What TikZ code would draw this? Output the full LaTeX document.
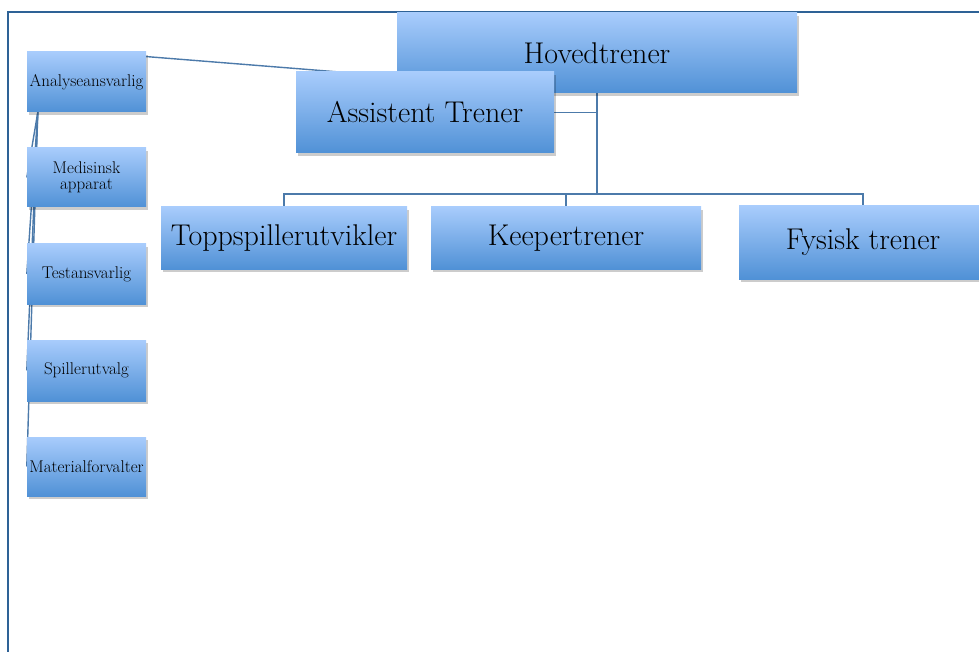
\documentclass[tikz,border=0pt]{standalone}
\usepackage{xcolor}
\usetikzlibrary{shadows,backgrounds}

\definecolor{boxtop}{RGB}{168,204,252}
\definecolor{boxbot}{RGB}{80,145,214}
\definecolor{frameblue}{RGB}{46,98,150}
\definecolor{linkblue}{RGB}{76,122,170}

\begin{document}
\begin{tikzpicture}[x=1pt, y=-1pt,
      orgbox/.style={rectangle, inner sep=0pt, top color=boxtop, bottom color=boxbot,
        drop shadow={shadow xshift=2pt, shadow yshift=-3pt, fill=black, opacity=0.2},
        text=black, font=\fontsize{30}{34}\selectfont},
      smallbox/.style={orgbox, minimum width=119pt, align=center,
        font=\fontsize{17}{16}\selectfont},
      link/.style={draw=linkblue, line width=1.4pt}]
    \useasboundingbox (0,0) rectangle (979,652);
    % frame
    \draw[frameblue, line width=2pt] (8,652) -- (8,12) -- (979,12);
    % top of the chart
    \node[orgbox, minimum width=400pt, minimum height=80pt] (hoved) at (597,53) {Hovedtrener};
    \node[orgbox, minimum width=258pt, minimum height=81pt] (assist) at (425,112.5) {Assistent Trener};
    \node[orgbox, minimum width=246pt, minimum height=62pt] (topp) at (284,238) {Toppspillerutvikler};
    \node[orgbox, minimum width=270pt, minimum height=62pt] (keeper) at (566,238) {Keepertrener};
    \node[orgbox, minimum width=248pt, minimum height=73pt] (fysisk) at (863,242.5) {Fysisk trener};
    % left column
    \node[smallbox, minimum height=60pt] (analyse) at (86.5,82) {Analyseansvarlig};
    \node[smallbox, minimum height=59pt] (medisinsk) at (86.5,177.5) {Medisinsk\\apparat};
    \node[smallbox, minimum height=60pt] (test) at (86.5,274) {Testansvarlig};
    \node[smallbox, minimum height=61pt] (spiller) at (86.5,370.5) {Spillerutvalg};
    \node[smallbox, minimum height=59pt] (material) at (86.5,466.5) {Materialforvalter};
    \coordinate (bus) at (hoved.south |- 0,194);
    \coordinate (fan) at ([xshift=11pt]analyse.south west);

    \begin{pgfonlayer}{background}
      \draw[link] (hoved.south) -- (bus);
      \draw[link] (topp.north) |- (bus) -| (fysisk.north);
      \draw[link] (keeper.north) |- (bus);
      \draw[link] (assist.east) -- (assist.east -| hoved.south);
      \draw[link] (analyse.north) -- ([xshift=41pt]assist.north west);
      \draw[link] (fan) -- (medisinsk.west);
      \draw[link] (fan) -- (test.west);
      \draw[link] (fan) -- (spiller.west);
      \draw[link] (fan) -- (material.west);
    \end{pgfonlayer}
  \end{tikzpicture}
\end{document}
